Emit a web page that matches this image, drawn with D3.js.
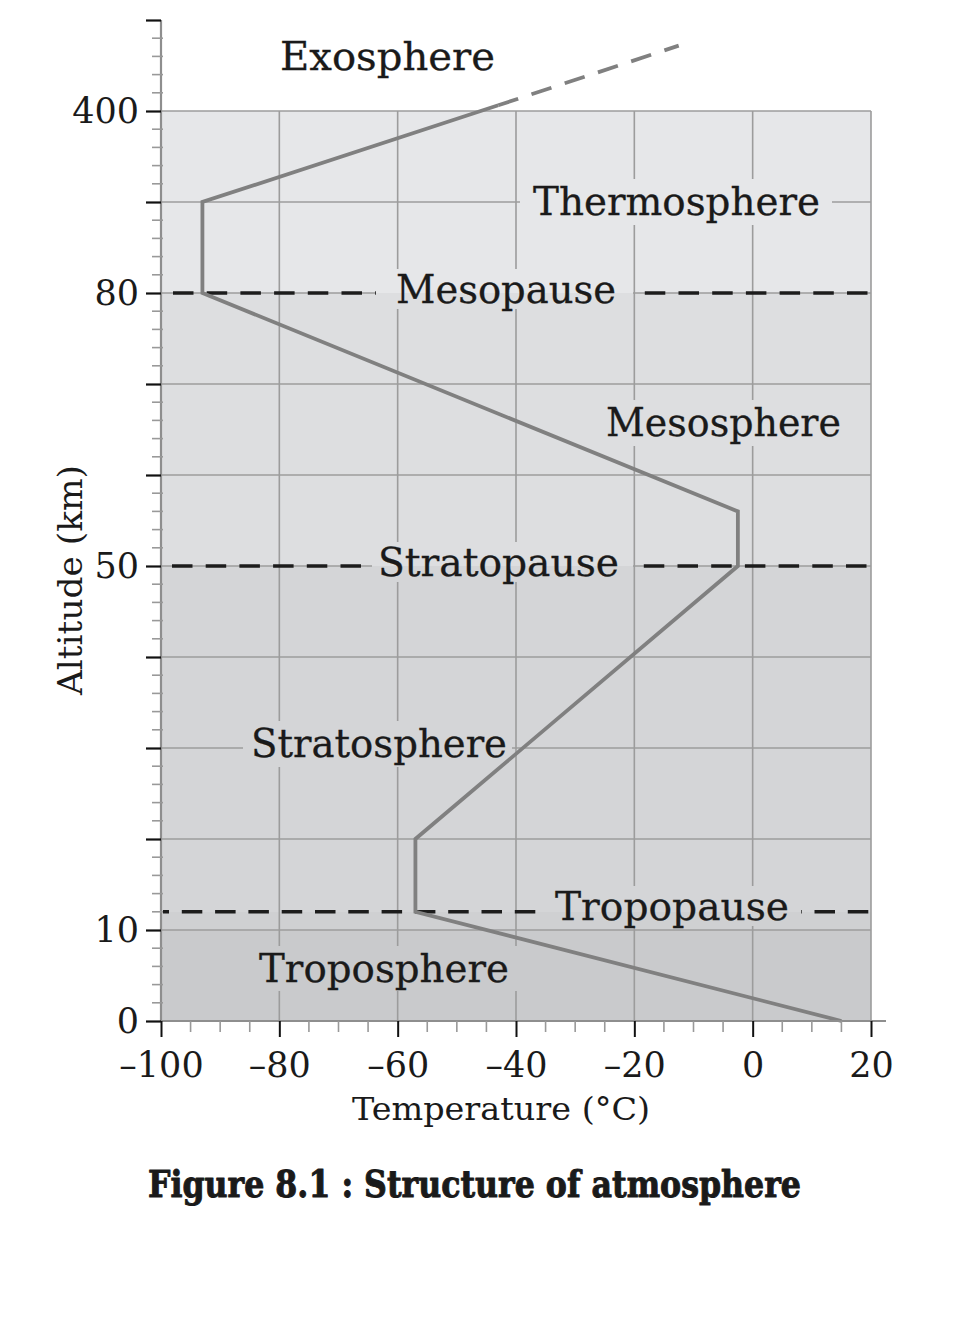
<!DOCTYPE html>
<html><head><meta charset="utf-8">
<script src="https://cdn.jsdelivr.net/npm/d3@7/dist/d3.min.js"></script>
<style>body{margin:0;background:#fff}</style>
</head><body>
<svg id="c" width="957" height="1330"></svg>
<script>
// ---------- data ----------
const profileTemps = [15, -57, -57, -2.5, -2.5, -93, -93, -43];
const profileAlts  = [0, 12, 20, 50, 56, 80, 240, 410];
const extTemps = [-43, -12.5];
const extAlts  = [410, 515];

const pauseNames = ["Tropopause", "Stratopause", "Mesopause"];
const pauseAlts  = [12, 50, 80];

const layerNames = ["Troposphere", "Stratosphere", "Mesosphere", "Thermosphere", "Exosphere"];

const bandLow  = [0, 10, 12, 50, 80];
const bandHigh = [10, 12, 50, 80, 400];
const bandColors = ["#c9cacc", "#cfd0d2", "#d4d5d7", "#dddee0", "#e6e7e9"];

const xTicks = [-100, -80, -60, -40, -20, 0, 20];
const xMinorStep = 5;
const yMajorTicks = [0, 10, 20, 30, 40, 50, 60, 70, 80, 240, 400, 560];
const yLabelValues = [0, 10, 50, 80, 400];

const xTitle = "Temperature (°C)";
const yTitle = "Altitude (km)";
const figTitle = "Figure 8.1 : Structure of atmosphere";

// ---------- layout ----------
const FONT = "'DejaVu Serif', 'Liberation Serif', serif";
const svg = d3.select("#c");
const x = d3.scaleLinear().domain([-100, 20]).range([161, 871]);
const y = d3.scaleLinear().domain([0, 80, 400]).range([1021, 293, 111]);

// label placement (text annotations): left, baseline, length, pads
const labelLayout = {
  "Exosphere":    {l: 280, b: 70,  w: 215, pl: 10, pr: 10, pt: 8, pb: 10},
  "Thermosphere": {l: 533, b: 215, w: 287, pl: 13, pr: 12, pt: 8, pb: 10},
  "Mesopause":    {l: 396, b: 303, w: 220, pl: 20, pr: 17, pt: 6, pb: 6},
  "Mesosphere":   {l: 606, b: 436, w: 235, pl: 12, pr: 12, pt: 8, pb: 10},
  "Stratopause":  {l: 378, b: 576, w: 241, pl: 6,  pr: 14, pt: 6, pb: 6},
  "Stratosphere": {l: 251, b: 757, w: 256, pl: 8,  pr: 5,  pt: 8, pb: 10},
  "Tropopause":   {l: 555, b: 920, w: 234, pl: 10, pr: 12, pt: 6, pb: 6},
  "Troposphere":  {l: 259, b: 982, w: 250, pl: 10, pr: 10, pt: 8, pb: 9}
};
const LFS = 39, CAP = Math.round(0.73 * LFS);

const bands = bandLow.map((lo, i) => ({lo, hi: bandHigh[i], c: bandColors[i]}));
function drawBands(g) {
  g.selectAll("rect").data(bands).join("rect")
    .attr("x", x(-100)).attr("width", x(20) - x(-100))
    .attr("y", d => Math.round(y(d.hi))).attr("height", d => Math.round(y(d.lo)) - Math.round(y(d.hi)))
    .attr("fill", d => d.c).attr("shape-rendering", "crispEdges");
}

// bands
drawBands(svg.append("g"));

// grid
const grid = svg.append("g").attr("stroke", "#9c9c9c").attr("stroke-width", 1.6);
grid.selectAll("line.v").data(xTicks).join("line").attr("class", "v")
  .attr("x1", d => x(d)).attr("x2", d => x(d)).attr("y1", y(0)).attr("y2", y(400));
grid.selectAll("line.h").data(yMajorTicks.filter(d => d <= 400)).join("line").attr("class", "h")
  .attr("x1", x(-100)).attr("x2", x(20)).attr("y1", d => y(d)).attr("y2", d => y(d));

// pause dashed lines
const pauseStyle = {
  "Tropopause":  {x0: 163, off: 14.5, dash: "20.5,12.8"},
  "Stratopause": {x0: 172, off: 0, dash: "20.5,13.2"},
  "Mesopause":   {x0: 173, off: 0, dash: "20.5,13.2"}
};
svg.append("g").selectAll("line").data(pauseNames.map((n, i) => ({n, a: pauseAlts[i]}))).join("line")
  .attr("x1", d => pauseStyle[d.n].x0).attr("x2", x(20) - 1)
  .attr("y1", d => y(d.a)).attr("y2", d => y(d.a))
  .attr("stroke", "#1c1c1c").attr("stroke-width", 3.6)
  .attr("stroke-dasharray", d => pauseStyle[d.n].dash)
  .attr("stroke-dashoffset", d => pauseStyle[d.n].off);

// label masks (re-paint bands behind labels)
const allLabels = layerNames.concat(pauseNames);
const maskRect = d => {
  const L = labelLayout[d];
  const x0 = Math.round(L.l - L.pl), x1 = Math.round(L.l + L.w + L.pr);
  const y0 = Math.round(L.b - CAP - L.pt), y1 = Math.round(L.b + L.pb);
  return {x0, x1, y0, y1};
};
const clip = svg.append("defs").append("clipPath").attr("id", "lblclip");
clip.selectAll("rect").data(allLabels).join("rect")
  .attr("x", d => maskRect(d).x0).attr("width", d => maskRect(d).x1 - maskRect(d).x0)
  .attr("y", d => maskRect(d).y0).attr("height", d => maskRect(d).y1 - maskRect(d).y0)
  .attr("shape-rendering", "crispEdges");
const maskG = svg.append("g").attr("clip-path", "url(#lblclip)");
maskG.append("rect").attr("x", 0).attr("y", 0).attr("width", 957).attr("height", 1330)
  .attr("fill", "#fff").attr("shape-rendering", "crispEdges");
drawBands(maskG.append("g"));

// profile
const line = d3.line().x(d => x(d[0])).y(d => y(d[1]));
svg.append("path").datum(profileTemps.map((t, i) => [t, profileAlts[i]]))
  .attr("d", line).attr("fill", "none").attr("stroke", "#808080")
  .attr("stroke-width", 3.8).attr("stroke-linejoin", "miter");
svg.append("path").datum(extTemps.map((t, i) => [t, extAlts[i]]))
  .attr("d", line).attr("fill", "none").attr("stroke", "#808080")
  .attr("stroke-width", 3.8).attr("stroke-dasharray", "21,14");

// axes lines
svg.append("line").attr("x1", x(-100)).attr("x2", x(-100)).attr("y1", y(560)).attr("y2", y(0))
  .attr("stroke", "#8e8e8e").attr("stroke-width", 2.2);
svg.append("line").attr("x1", x(-100)).attr("x2", x(20) + 15).attr("y1", y(0)).attr("y2", y(0))
  .attr("stroke", "#8e8e8e").attr("stroke-width", 2.2);

// minor ticks
const xMinor = d3.range(-100, 20 + 0.001, xMinorStep).filter(d => !xTicks.includes(d));
svg.append("g").selectAll("line").data(xMinor).join("line")
  .attr("x1", d => x(d)).attr("x2", d => x(d)).attr("y1", y(0)).attr("y2", y(0) + 11)
  .attr("stroke", "#999").attr("stroke-width", 1.6);
const yMinor = [];
for (let i = 0; i < yMajorTicks.length - 1; i++) {
  const a = yMajorTicks[i], b = yMajorTicks[i + 1];
  for (let k = 1; k < 5; k++) yMinor.push(a + (b - a) * k / 5);
}
svg.append("g").selectAll("line").data(yMinor).join("line")
  .attr("x1", x(-100) - 9).attr("x2", x(-100) + 2).attr("y1", d => y(d)).attr("y2", d => y(d))
  .attr("stroke", "#999").attr("stroke-width", 1.6);

// major axes via d3.axis
const fmt = d => d < 0 ? "\u2013" + Math.abs(d) : String(d);
const xAxis = svg.append("g").attr("transform", `translate(0,${y(0)})`)
  .call(d3.axisBottom(x).tickValues(xTicks).tickSize(16).tickPadding(15).tickFormat(fmt));
xAxis.select(".domain").remove();
xAxis.selectAll(".tick line").attr("stroke", "#111").attr("stroke-width", 2);
xAxis.selectAll(".tick text").attr("font-family", FONT).attr("font-size", 35).attr("fill", "#1a1a1a");

const yAxis = svg.append("g").attr("transform", `translate(${x(-100)},0)`)
  .call(d3.axisLeft(y).tickValues(yMajorTicks).tickSize(15).tickPadding(7)
    .tickFormat(d => yLabelValues.includes(d) ? String(d) : ""));
yAxis.select(".domain").remove();
yAxis.selectAll(".tick line").attr("stroke", "#111").attr("stroke-width", 2.2);
yAxis.selectAll(".tick text").attr("font-family", FONT).attr("font-size", 35).attr("fill", "#1a1a1a");

// region labels
svg.append("g").selectAll("text").data(allLabels).join("text")
  .attr("x", d => labelLayout[d].l).attr("y", d => labelLayout[d].b)
  .attr("textLength", d => labelLayout[d].w).attr("lengthAdjust", "spacingAndGlyphs")
  .attr("font-family", FONT).attr("font-size", LFS).attr("fill", "#1a1a1a")
  .attr("stroke", "#1a1a1a").attr("stroke-width", 0.3)
  .text(d => d);

// axis titles
svg.append("text").attr("x", 352).attr("y", 1120).attr("textLength", 298).attr("lengthAdjust", "spacingAndGlyphs")
  .attr("font-family", FONT).attr("font-size", 32).attr("fill", "#1a1a1a").text(xTitle);
svg.append("text").attr("transform", "translate(82,695) rotate(-90)")
  .attr("textLength", 230).attr("lengthAdjust", "spacingAndGlyphs")
  .attr("font-family", FONT).attr("font-size", 33).attr("fill", "#1a1a1a").text(yTitle);

// figure title
svg.append("text").attr("x", 148).attr("y", 1197).attr("textLength", 653).attr("lengthAdjust", "spacingAndGlyphs")
  .attr("font-family", FONT).attr("font-weight", "bold").attr("font-size", 37).attr("fill", "#1a1a1a")
  .attr("stroke", "#1a1a1a").attr("stroke-width", 1).attr("stroke-linejoin", "round").text(figTitle);
</script>
</body></html>
